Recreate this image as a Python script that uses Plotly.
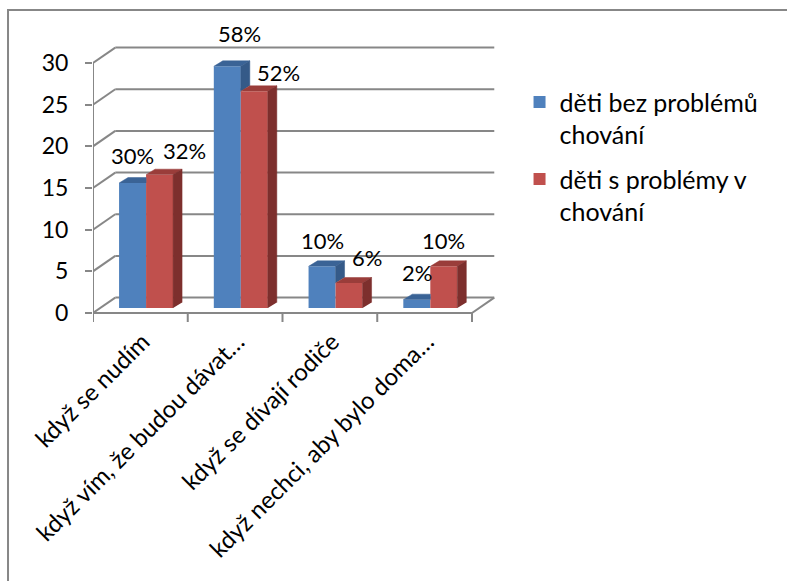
import plotly.graph_objects as go

# ---- data -----------------------------------------------------------------
categories = [
    "když se nudím",
    "když vím, že budou dávat…",
    "když se dívají rodiče",
    "když nechci, aby bylo doma…",
]
series_names = ["děti bez problémů<br>chování", "děti s problémy v<br>chování"]
no_problem_counts = [15, 29, 5, 1]
problem_counts = [16, 26, 3, 5]
group_size = 50  # children per group; labels show share of the group
y_ticks = [0, 5, 10, 15, 20, 25, 30]

# ---- styling / pseudo-3D geometry (axis units) ------------------------------
FONT = "Lato"
LABEL_SIZE = 22
TICK_SIZE = 23
CAT_SIZE = 24
LEGEND_SIZE = 25
GRID = "#878787"
BLUE, BLUE_TOP, BLUE_SIDE = "#4F81BD", "#3A6396", "#355A88"
RED, RED_TOP, RED_SIDE = "#C0504D", "#9A3D3A", "#7D2F2D"

BASE = 0.6        # bars stand mid-way in the floor depth
SHIFT = 0.06      # horizontal depth shift of the bars
BAR_W = 0.285     # width of one bar
DDX, DDY = 0.095, 0.66   # bar depth
GDX, GDY = 0.235, 1.85   # wall depth
CAT_LABEL_OFF = 0.025    # where rotated category labels end
X_MIN, X_MAX = -0.5, 3.7955
Y_MIN, Y_MAX = -1.08, 33.36

# label nudges (pixels) for readability
blue_dx, blue_dy = [0, 12, 0, 0], [28, 33, 26, 27]
red_dx, red_dy = [25, 24, 18, 0], [24, 19, 26, 26]

n = len(categories)
blue_x = [i + SHIFT - BAR_W / 2 for i in range(n)]
red_x = [i + SHIFT + BAR_W / 2 for i in range(n)]


def pct(v):
    return f"{round(v / group_size * 100)}%"


def poly_trace(polys, color):
    xs, ys = [], []
    for p in polys:
        for (px, py) in p:
            xs.append(px)
            ys.append(py)
        xs.append(None)
        ys.append(None)
    return go.Scatter(x=xs, y=ys, mode="lines", fill="toself", fillcolor=color,
                      line=dict(color=color, width=0.5), hoverinfo="skip",
                      showlegend=False)


fig = go.Figure()

# front faces
fig.add_trace(go.Bar(x=blue_x, y=no_problem_counts, base=BASE, width=BAR_W,
                     marker=dict(color=BLUE, line=dict(width=0)),
                     name=series_names[0], legendgroup="no_problem"))
fig.add_trace(go.Bar(x=red_x, y=problem_counts, base=BASE, width=BAR_W,
                     marker=dict(color=RED, line=dict(width=0)),
                     name=series_names[1], legendgroup="problem"))

# top and side faces
b_tops, b_sides, r_tops, r_sides = [], [], [], []
for i in range(n):
    bx0, bx1 = blue_x[i] - BAR_W / 2, blue_x[i] + BAR_W / 2
    rx0, rx1 = red_x[i] - BAR_W / 2, red_x[i] + BAR_W / 2
    bt = BASE + no_problem_counts[i]
    rt = BASE + problem_counts[i]
    if bt >= rt:
        b_tops.append([(bx0, bt), (bx0 + DDX, bt + DDY), (bx1 + DDX, bt + DDY), (bx1, bt)])
        b_sides.append([(bx1, rt), (bx1, bt), (bx1 + DDX, bt + DDY), (bx1 + DDX, rt + DDY)])
    else:
        b_tops.append([(bx0, bt), (bx0 + DDX, bt + DDY), (bx1, bt + DDY), (bx1, bt)])
    r_tops.append([(rx0, rt), (rx0 + DDX, rt + DDY), (rx1 + DDX, rt + DDY), (rx1, rt)])
    r_sides.append([(rx1, BASE), (rx1, rt), (rx1 + DDX, rt + DDY), (rx1 + DDX, BASE + DDY)])

fig.add_trace(poly_trace(b_tops, BLUE_TOP))
fig.add_trace(poly_trace(b_sides, BLUE_SIDE))
fig.add_trace(poly_trace(r_tops, RED_TOP))
fig.add_trace(poly_trace(r_sides, RED_SIDE))

# walls, grid and axes lines
shapes = []
line = dict(color=GRID, width=2)
for v in y_ticks:
    shapes.append(dict(type="line", xref="x", yref="y", x0=-0.5, y0=v,
                       x1=-0.5 + GDX, y1=v + GDY, line=line, layer="below"))
    shapes.append(dict(type="line", xref="x", yref="y", x0=-0.5 + GDX, y0=v + GDY,
                       x1=n - 0.5 + GDX, y1=v + GDY, line=line, layer="below"))
shapes.append(dict(type="line", xref="x", yref="y", x0=-0.5, y0=0, x1=-0.5,
                   y1=max(y_ticks), line=line, layer="below"))
shapes.append(dict(type="line", xref="x", yref="y", x0=-0.5, y0=0, x1=n - 0.5,
                   y1=0, line=line, layer="below"))
shapes.append(dict(type="line", xref="x", yref="y", x0=n - 0.5, y0=0,
                   x1=n - 0.5 + GDX, y1=GDY, line=line, layer="below"))
for k in range(n + 1):
    shapes.append(dict(type="line", xref="x", yref="y", x0=k - 0.5, y0=0,
                       x1=k - 0.5, y1=Y_MIN, line=line, layer="below"))
# chart frame
shapes.append(dict(type="rect", xref="paper", yref="paper",
                   x0=-0.2088, y0=-0.95, x1=1.75, y1=1.087,
                   line=dict(color=GRID, width=2), fillcolor="rgba(0,0,0,0)"))

# value labels
annotations = []
for i in range(n):
    annotations.append(dict(x=blue_x[i], y=BASE + no_problem_counts[i],
                            text=pct(no_problem_counts[i]), showarrow=False,
                            xshift=blue_dx[i], yshift=blue_dy[i],
                            font=dict(family=FONT, size=LABEL_SIZE, color="black")))
    annotations.append(dict(x=red_x[i], y=BASE + problem_counts[i],
                            text=pct(problem_counts[i]), showarrow=False,
                            xshift=red_dx[i], yshift=red_dy[i],
                            font=dict(family=FONT, size=LABEL_SIZE, color="black")))

fig.update_layout(
    width=787, height=581,
    margin=dict(l=93, r=287, t=35, b=259),
    paper_bgcolor="white", plot_bgcolor="white",
    font=dict(family=FONT, size=TICK_SIZE, color="black"),
    barmode="overlay",
    shapes=shapes, annotations=annotations,
    xaxis=dict(range=[X_MIN, X_MAX], tickvals=[i + CAT_LABEL_OFF for i in range(n)],
               ticktext=categories, tickangle=-45, ticks="", showgrid=False,
               tickfont=dict(family=FONT, size=CAT_SIZE, color="black"),
               zeroline=False, showline=False, fixedrange=True),
    yaxis=dict(range=[Y_MIN, Y_MAX], tickvals=y_ticks, ticks="outside", ticklen=7,
               tickwidth=2, tickcolor=GRID, ticklabelstandoff=12, showgrid=False,
               tickfont=dict(family=FONT, size=TICK_SIZE, color="black"),
               zeroline=False, showline=False, fixedrange=True),
    legend=dict(x=1.048, y=0.846, xanchor="left", yanchor="top", valign="top",
                font=dict(family=FONT, size=LEGEND_SIZE), tracegroupgap=9,
                bgcolor="rgba(0,0,0,0)"),
    showlegend=True,
)

fig.write_html("out.html")
